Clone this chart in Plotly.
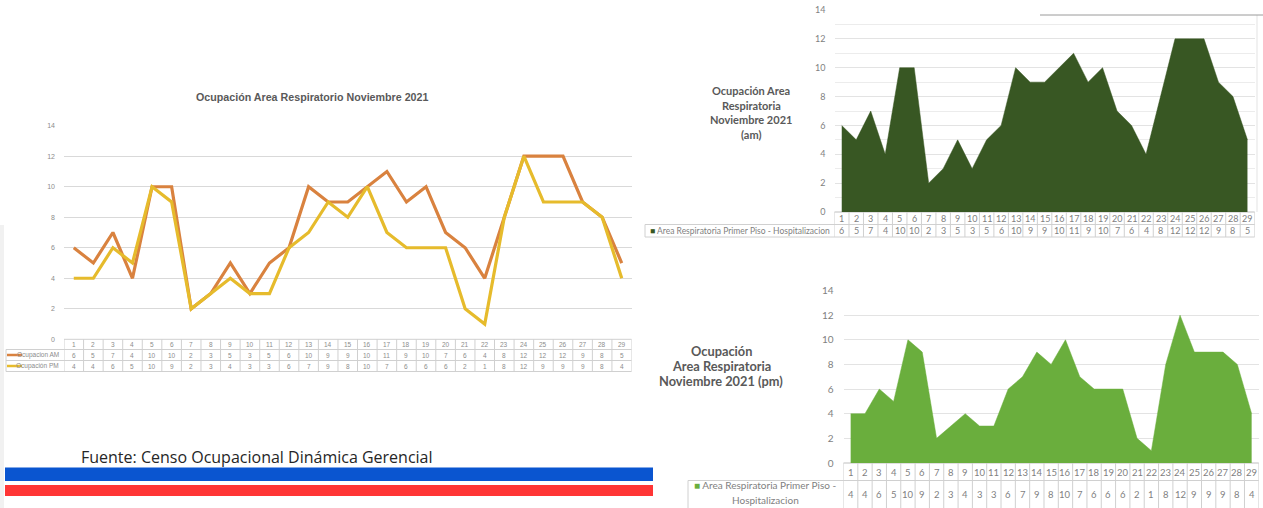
import plotly.graph_objects as go

# Occupancy of the respiratory area, November 2021 (day of month)
dias = list(range(1, 30))
ocupacion_am = [6, 5, 7, 4, 10, 10, 2, 3, 5, 3, 5, 6, 10, 9, 9, 10, 11, 9, 10, 7, 6, 4, 8, 12, 12, 12, 9, 8, 5]
ocupacion_pm = [4, 4, 6, 5, 10, 9, 2, 3, 4, 3, 3, 6, 7, 9, 8, 10, 7, 6, 6, 6, 2, 1, 8, 12, 9, 9, 9, 8, 4]
valores_eje_y = [0, 2, 4, 6, 8, 10, 12, 14]

W, H = 1263, 508


def px(x):
    return x / W


def py(y):
    return 1 - y / H


ARIAL = "Liberation Sans, Arial, sans-serif"
CALIBRI = "Lato, Carlito, Open Sans, sans-serif"
OPEN = "Open Sans, Lato, sans-serif"
GRIS = "#595959"
GRID = "#d9d9d9"
BORDE = "#d0d0d0"

C_AM = "#d9823f"
C_PM = "#e6bb2c"
VERDE_OSC = "#385723"
VERDE_CLARO = "#6aae3d"

fig = go.Figure()

# ---- left: line chart AM vs PM ----
fig.add_trace(go.Scatter(x=dias, y=ocupacion_am, mode="lines", name="Ocupacion AM",
                         line=dict(color=C_AM, width=3.2), xaxis="x", yaxis="y"))
fig.add_trace(go.Scatter(x=dias, y=ocupacion_pm, mode="lines", name="Ocupación PM",
                         line=dict(color=C_PM, width=3.2), xaxis="x", yaxis="y"))

# ---- top right: AM area ----
fig.add_trace(go.Scatter(x=dias, y=ocupacion_am, mode="lines", fill="tozeroy",
                         fillcolor=VERDE_OSC, line=dict(color=VERDE_OSC, width=0.5),
                         xaxis="x2", yaxis="y2"))

# ---- bottom right: PM area ----
fig.add_trace(go.Scatter(x=dias, y=ocupacion_pm, mode="lines", fill="tozeroy",
                         fillcolor=VERDE_CLARO, line=dict(color=VERDE_CLARO, width=0.5),
                         xaxis="x3", yaxis="y3"))

# plot-area geometry (pixels)
L = dict(x0=64, x1=631.5, y0=339.3, y1=125.7)
A = dict(x0=834.5, x1=1254.7, y0=212, y1=10)
P = dict(x0=843.5, x1=1258.8, y0=463, y1=290.5)

xcommon = dict(range=[0.5, 29.5], showgrid=False, zeroline=False, showticklabels=False,
               ticks="", showline=False, fixedrange=True, automargin=False)

fig.update_layout(
    template="none",
    width=W, height=H,
    margin=dict(l=0, r=0, t=0, b=0, pad=0, autoexpand=False),
    paper_bgcolor="white", plot_bgcolor="rgba(0,0,0,0)",
    showlegend=False,
    xaxis=dict(domain=[px(L["x0"]), px(L["x1"])], anchor="y", **xcommon),
    yaxis=dict(domain=[py(L["y0"]), py(L["y1"])], anchor="x", range=[0, 14], automargin=False,
               tickvals=valores_eje_y, showgrid=True, gridcolor=GRID, gridwidth=1,
               zeroline=False, showline=False, ticks="", ticklabelstandoff=8,
               tickfont=dict(family=ARIAL, size=7, color="#8c8c8c")),
    xaxis2=dict(domain=[px(A["x0"]), px(A["x1"])], anchor="y2", **xcommon),
    yaxis2=dict(domain=[py(A["y0"]), py(A["y1"])], anchor="x2", range=[0, 14], automargin=False,
                tickvals=valores_eje_y, showgrid=True, gridcolor="#e3e3e3", gridwidth=1,
                minor=dict(dtick=1, showgrid=True, gridcolor="#ececec"),
                zeroline=False, showline=False, ticks="", ticklabelstandoff=8,
                tickfont=dict(family=CALIBRI, size=9, color="#7f7f7f")),
    xaxis3=dict(domain=[px(P["x0"]), px(P["x1"])], anchor="y3", **xcommon),
    yaxis3=dict(domain=[py(P["y0"]), py(P["y1"])], anchor="x3", range=[0, 14], automargin=False,
                tickvals=valores_eje_y, showgrid=True, gridcolor="#e3e3e3", gridwidth=1,
                zeroline=False, showline=False, ticks="", ticklabelstandoff=9,
                tickfont=dict(family=CALIBRI, size=10, color="#7f7f7f")),
)

shapes = []
ann = []


def hline(x0, x1, y, color=BORDE, width=1, xref="paper"):
    shapes.append(dict(type="line", xref=xref, yref="paper", x0=x0, x1=x1, y0=py(y), y1=py(y),
                       line=dict(color=color, width=width), layer="below"))


def vline(x, y0, y1, xref="paper", color=BORDE, width=1):
    shapes.append(dict(type="line", xref=xref, yref="paper", x0=x, x1=x, y0=py(y0), y1=py(y1),
                       line=dict(color=color, width=width), layer="below"))


def text(x, y, s, size, color=GRIS, family=ARIAL, xref="paper", xanchor="center", bold=False):
    if bold:
        s = "<b>" + s + "</b>"
    ann.append(dict(x=x, y=py(y), xref=xref, yref="paper", text=s, showarrow=False,
                    xanchor=xanchor, yanchor="middle", font=dict(family=family, size=size, color=color)))


# ---- left chart: title, data table ----
text(px(311.5), 97, "Ocupación Area Respiratorio Noviembre 2021", 10.7, color="#595959",
     family=ARIAL, bold=True)

t_rows = [339.3, 349.5, 360.5, 371.5]
hline(px(L["x0"]), px(L["x1"]), t_rows[0])
for yy in t_rows[1:]:
    hline(px(6), px(L["x1"]), yy)
vline(px(6), t_rows[1], t_rows[3])
for k in range(30):
    vline(k + 0.5, t_rows[0], t_rows[3], xref="x")
for d, a, p in zip(dias, ocupacion_am, ocupacion_pm):
    text(d, 344.3, str(d), 6.5, color="#8c8c8c", xref="x")
    text(d, 355.0, str(a), 6.5, color="#8c8c8c", xref="x")
    text(d, 366.0, str(p), 6.5, color="#8c8c8c", xref="x")
shapes.append(dict(type="line", xref="paper", yref="paper", x0=px(7), x1=px(22), y0=py(355), y1=py(355),
                   line=dict(color=C_AM, width=2.5)))
shapes.append(dict(type="line", xref="paper", yref="paper", x0=px(7), x1=px(22), y0=py(366), y1=py(366),
                   line=dict(color=C_PM, width=2.5)))
text(px(61), 355, "Ocupacion AM", 6.5, color="#8c8c8c", xanchor="right")
text(px(61), 366, "Ocupación PM", 6.5, color="#8c8c8c", xanchor="right")

# ---- top right: AM area chart title and table ----
for i, line in enumerate(["Ocupación Area", "Respiratoria", "Noviembre 2021", "(am)"]):
    text(px(751), 90.5 + i * 14.7, line, 11, color=GRIS, family=CALIBRI, bold=True)

a_rows = [212, 224.5, 237]
hline(px(A["x0"]), px(A["x1"]), a_rows[0], color="#bfbfbf")
hline(px(645), px(A["x1"]), a_rows[1])
hline(px(645), px(A["x1"]), a_rows[2])
vline(px(645), a_rows[1], a_rows[2])
for k in range(30):
    vline(k + 0.5, a_rows[0], a_rows[2], xref="x2")
vline(px(1257), 15, 212, color="#e3e3e3")
hline(px(1040), px(1263), 15, color="#9a9a9a")
for d, a in zip(dias, ocupacion_am):
    text(d, 218.5, str(d), 9, color="#7f7f7f", family=CALIBRI, xref="x2")
    text(d, 230.8, str(a), 9, color="#7f7f7f", family=CALIBRI, xref="x2")
text(px(648), 230.8, "<span style='color:%s'>■</span> Area Respiratoria Primer Piso - Hospitalizacion" % VERDE_OSC,
     8.5, color="#7f7f7f", family=CALIBRI, xanchor="left")

# ---- bottom right: PM area chart title and table ----
for i, line in enumerate(["Ocupación", "Area Respiratoria", "Noviembre 2021 (pm)"]):
    text(px(721), 350.7 + i * 15.2, line, 12.8, color=GRIS, family=CALIBRI, bold=True)

p_rows = [463, 480.5, 508]
hline(px(P["x0"]), px(P["x1"]), p_rows[0], color="#bfbfbf")
hline(px(688), px(P["x1"]), p_rows[1])
vline(px(688), p_rows[1], p_rows[2])
for k in range(30):
    vline(k + 0.5, p_rows[0], p_rows[2], xref="x3")
for d, p in zip(dias, ocupacion_pm):
    text(d, 472, str(d), 9.5, color="#7f7f7f", family=CALIBRI, xref="x3")
    text(d, 494, str(p), 9.5, color="#7f7f7f", family=CALIBRI, xref="x3")
text(px(765), 485, "<span style='color:%s'>■</span> Area Respiratoria Primer Piso -" % VERDE_CLARO,
     10, color="#7f7f7f", family=CALIBRI)
text(px(765), 500, "Hospitalizacion", 10, color="#7f7f7f", family=CALIBRI)

# ---- footer: source and flag stripes ----
text(px(79), 457, "Fuente: Censo Ocupacional Dinámica Gerencial", 16, color="#262626",
     family=OPEN, xanchor="left")
shapes.append(dict(type="rect", xref="paper", yref="paper", x0=px(5), x1=px(653), y0=py(481), y1=py(467.5),
                   fillcolor="#0a55d0", line=dict(width=0)))
shapes.append(dict(type="rect", xref="paper", yref="paper", x0=px(5), x1=px(653), y0=py(496), y1=py(485),
                   fillcolor="#ff3535", line=dict(width=0)))
shapes.append(dict(type="rect", xref="paper", yref="paper", x0=0, x1=px(4), y0=0, y1=py(225),
                   fillcolor="#f1f1f1", line=dict(width=0), layer="below"))

fig.update_layout(shapes=shapes, annotations=ann)
fig.write_html("out.html")
